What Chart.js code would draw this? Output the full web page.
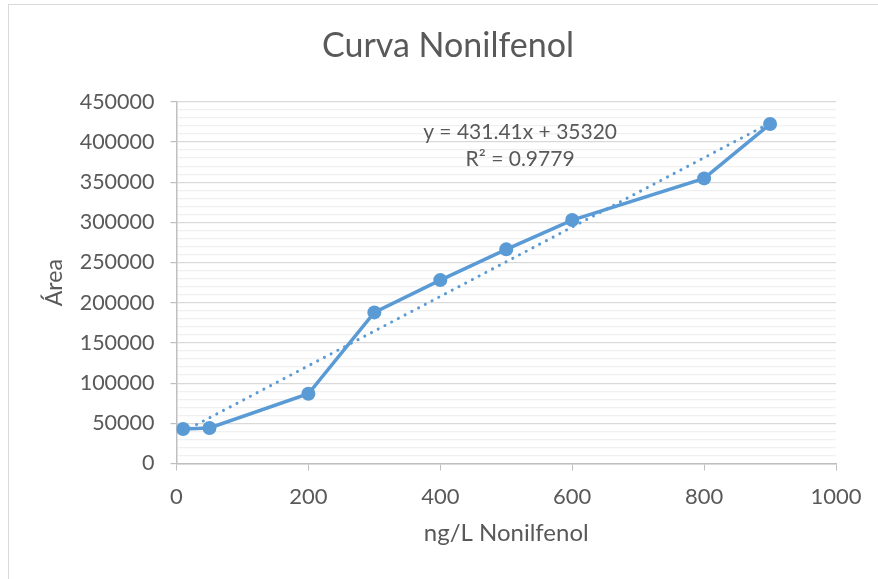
<!DOCTYPE html>
<html>
<head>
<meta charset="utf-8">
<script src="https://cdn.jsdelivr.net/npm/chart.js@4/dist/chart.umd.min.js"></script>
<style>
  html, body { margin: 0; padding: 0; background: #fff; }
  #frame { position: absolute; left: 8px; top: 4px; width: 900px; height: 600px; border: 1px solid #d9d9d9; }
  #wrap { position: absolute; left: 0; top: 0; width: 878px; height: 579px; }
</style>
</head>
<body>
<div id="frame"></div>
<div id="wrap"><canvas id="chart" width="878" height="579"></canvas></div>
<script>
// concentration (ng/L) and measured area
const concentrations = [10, 50, 200, 300, 400, 500, 600, 800, 900];
const areas = [42900, 44200, 86800, 188000, 228200, 266400, 302900, 354700, 422300];

// linear trendline as reported on the chart
const slope = 431.41;
const intercept = 35320;
const trendLabel = ["y = 431.41x + 35320", "R² = 0.9779"];

const blue = "#5b9bd5";
const textGrey = "#595959";
const font = "Lato, 'Open Sans', sans-serif";

const points = concentrations.map((x, i) => ({ x: x, y: areas[i] }));
const xFirst = concentrations[0];
const xLast = concentrations[concentrations.length - 1];
const trend = [
  { x: xFirst, y: slope * xFirst + intercept },
  { x: xLast, y: slope * xLast + intercept },
];

// equation box, written in data coordinates
const trendLabelPlugin = {
  id: "trendLabel",
  afterDatasetsDraw(chart) {
    const { ctx, scales } = chart;
    const cx = scales.x.getPixelForValue(521);
    ctx.save();
    ctx.fillStyle = textGrey;
    ctx.font = "21px " + font;
    ctx.textAlign = "center";
    ctx.textBaseline = "middle";
    ctx.fillText(trendLabel[0], cx, scales.y.getPixelForValue(412700));
    ctx.fillText(trendLabel[1], cx, scales.y.getPixelForValue(378400));
    ctx.restore();
  },
};

new Chart(document.getElementById("chart"), {
  type: "scatter",
  data: {
    datasets: [
      {
        label: "Lineal",
        data: trend,
        showLine: true,
        borderColor: blue,
        borderWidth: 3,
        borderDash: [0.1, 7.5],
        borderCapStyle: "round",
        pointRadius: 0,
      },
      {
        label: "Nonilfenol",
        data: points,
        showLine: true,
        borderColor: blue,
        backgroundColor: blue,
        borderWidth: 3.5,
        pointRadius: 7,
        pointBorderWidth: 0,
        pointHoverRadius: 7,
      },
    ],
  },
  options: {
    responsive: false,
    animation: false,
    layout: { padding: { top: 0, right: 42, bottom: 0, left: 60 } },
    plugins: {
      legend: { display: false },
      tooltip: { enabled: false },
      title: {
        display: true,
        text: "Curva Nonilfenol",
        color: textGrey,
        font: { family: font, size: 34, weight: "normal" },
        padding: { top: 26, bottom: 35 },
      },
    },
    scales: {
      x: {
        type: "linear",
        min: 0,
        max: 1000,
        afterFit: (scale) => { scale.height = 115.5; },
        ticks: {
          stepSize: 200,
          color: textGrey,
          padding: 13,
          font: { family: font, size: 22 },
          callback: (v) => String(v),
        },
        grid: {
          drawOnChartArea: false,
          drawTicks: true,
          tickLength: 7,
          color: "#bfbfbf",
        },
        border: { color: "#bfbfbf", width: 1.5 },
        title: {
          display: true,
          text: "ng/L Nonilfenol",
          color: textGrey,
          font: { family: font, size: 24 },
          padding: { bottom: 31 },
        },
      },
      y: {
        type: "linear",
        min: 0,
        max: 450000,
        afterFit: (scale) => { scale.width = 116.5; },
        ticks: {
          stepSize: 10000,
          maxTicksLimit: 100,
          autoSkip: false,
          color: textGrey,
          padding: 16,
          font: { family: font, size: 21.5 },
          callback: (v) => (v % 50000 === 0 ? String(v) : ""),
        },
        grid: {
          drawTicks: true,
          tickLength: 6,
          color: (c) => (c.tick && c.tick.value % 50000 === 0 ? "#d9d9d9" : "#f0f0f0"),
          tickColor: (c) => (c.tick && c.tick.value % 50000 === 0 ? "#bfbfbf" : "rgba(0,0,0,0)"),
          lineWidth: 1.2,
        },
        border: { color: "#bfbfbf", width: 1.5 },
        title: {
          display: true,
          text: "Área",
          color: textGrey,
          font: { family: font, size: 23 },
          padding: { top: -19 },
        },
      },
    },
  },
  plugins: [trendLabelPlugin],
});
</script>
</body>
</html>
